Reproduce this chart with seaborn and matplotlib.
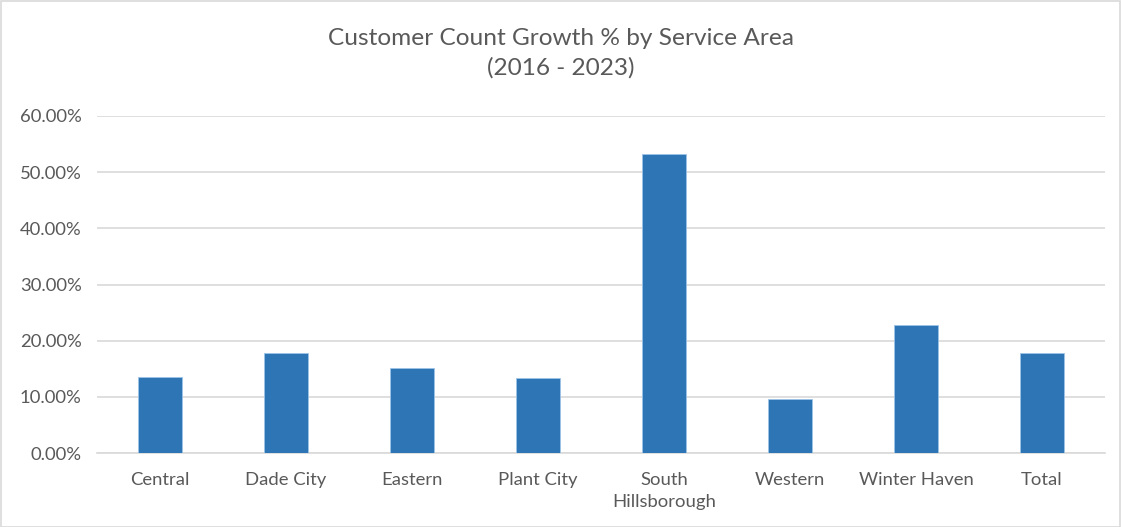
import matplotlib
matplotlib.use("Agg")
import matplotlib.pyplot as plt
import matplotlib.ticker as mticker
from matplotlib.patches import Rectangle
import seaborn as sns
import pandas as pd

# Service areas and their customer count growth, 2016 - 2023 (percent)
areas = ["Central", "Dade City", "Eastern", "Plant City", "South\nHillsborough",
         "Western", "Winter Haven", "Total"]
growth_pct = [13.6, 17.8, 15.1, 13.3, 53.25, 9.7, 22.75, 17.8]
y_ticks = [0, 10, 20, 30, 40, 50, 60]

df = pd.DataFrame({"area": areas, "growth": growth_pct})

sns.set_theme(style="white")
plt.rcParams["font.family"] = ["Lato", "DejaVu Sans"]

text_color = "#595959"
grid_color = "#d9d9d9"
bar_color = "#2e75b6"

fig = plt.figure(figsize=(11.21, 5.27), dpi=100)
ax = fig.add_axes([97 / 1121, 1 - 453 / 527, (1105 - 97) / 1121, (453 - 116) / 527])

sns.barplot(data=df, x="area", y="growth", color=bar_color, width=0.35,
            saturation=1, edgecolor="#9dc3e6", linewidth=0.6, ax=ax, zorder=3)

ax.set_ylim(0, 60)
ax.set_yticks(y_ticks)
ax.yaxis.set_major_formatter(mticker.FuncFormatter(lambda v, _: f"{v:.2f}%"))
ax.grid(axis="y", color=grid_color, linewidth=1.2, zorder=0)
ax.set_axisbelow(True)
for side in ["top", "right", "left"]:
    ax.spines[side].set_visible(False)
ax.spines["bottom"].set_color(grid_color)
ax.spines["bottom"].set_linewidth(1.2)
ax.set_xlabel("")
ax.set_ylabel("")
ax.tick_params(axis="both", length=0, labelsize=13.3, labelcolor=text_color)
ax.tick_params(axis="y", pad=11)
ax.tick_params(axis="x", pad=14)
for lbl in ax.get_xticklabels():
    lbl.set_linespacing(1.45)

fig.text(0.5, 1 - 53 / 527, "Customer Count Growth % by Service Area\n(2016 - 2023)",
         ha="center", va="center", fontsize=17.6, color=text_color, linespacing=1.45)

# Light chart border
fig.patches.append(Rectangle((0.5 / 1121, 0.5 / 527), 1 - 1.5 / 1121, 1 - 1.5 / 527,
                             transform=fig.transFigure, fill=False,
                             edgecolor="#d9d9d9", linewidth=1.2))

fig.savefig("out.png", dpi=100, facecolor="white")
